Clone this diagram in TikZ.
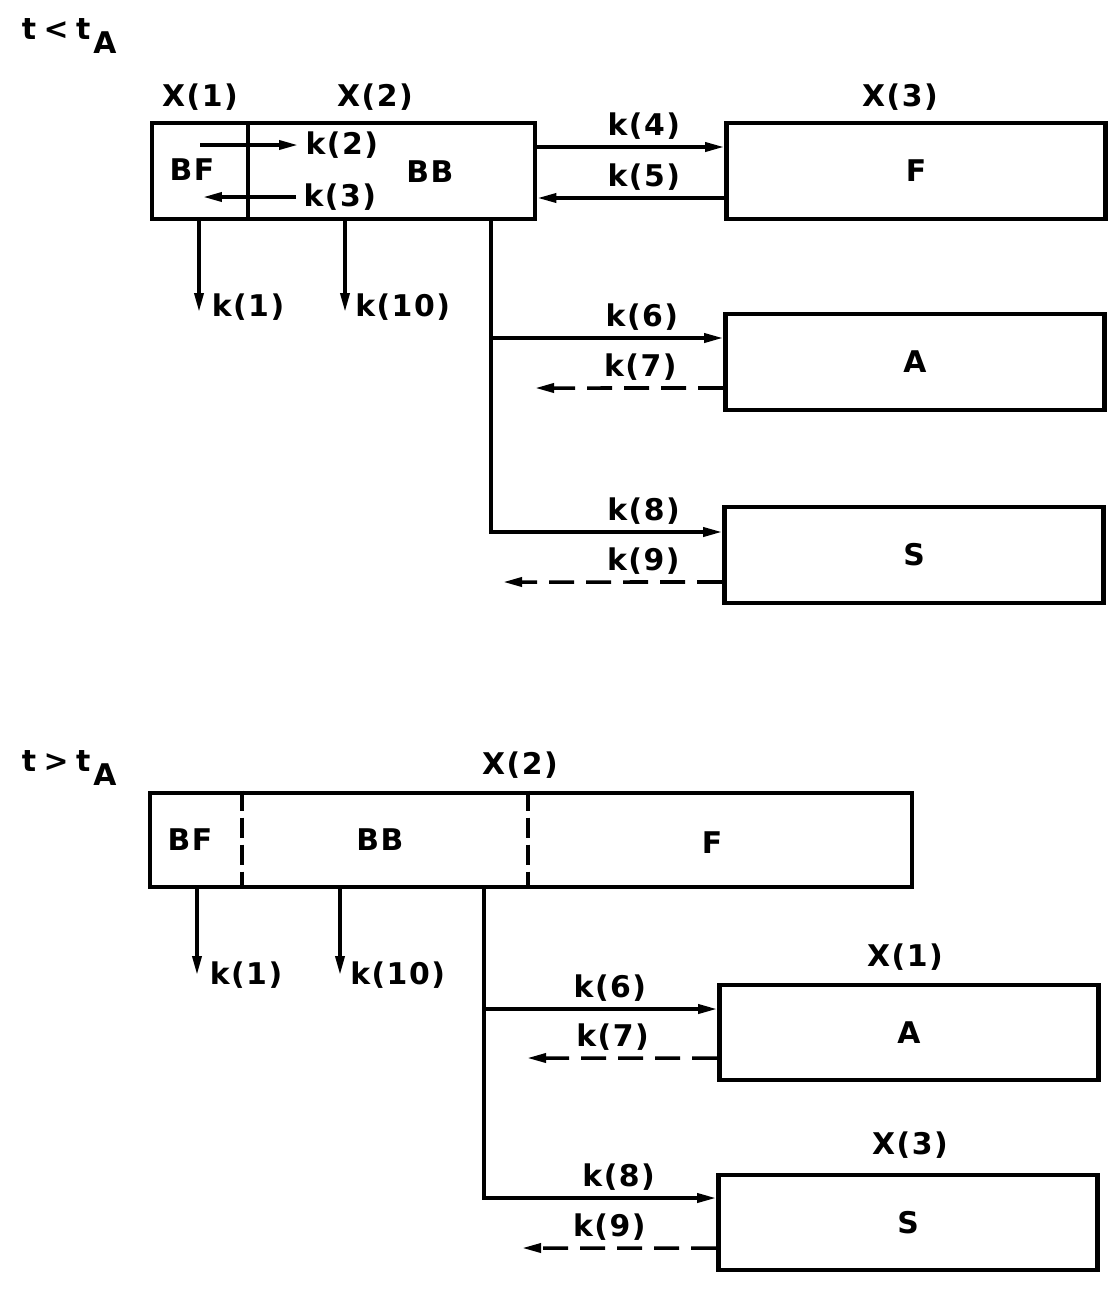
\documentclass[tikz,border=0pt]{standalone}
\usepackage{fontspec}
\setmainfont{DejaVu Sans}[LetterSpace=5, UprightFont={* Bold}]
\usetikzlibrary{positioning,arrows.meta}

\begin{document}
\begin{tikzpicture}[
    x=0.02cm, y=-0.02cm,
    every node/.style={font=\fontsize{17}{20}\selectfont},
    box/.style={
        rectangle, draw, line width=2.7pt,
        minimum width=7.58cm, minimum height=1.92cm,
        inner sep=0pt, align=center
    },
    lbl/.style={inner sep=2pt},
    arrow/.style={-{Triangle[length=0.38cm,width=0.18cm]}, line width=2pt},
    darrow/.style={arrow, dash pattern=on 0.5cm off 0.24cm},
    divider/.style={line width=2.2pt, dash pattern=on 0.4cm off 0.14cm}
]
  \useasboundingbox (0,0) rectangle (1113,1289);

  % ---------- before t_A ----------
  \node[lbl, anchor=west] (when1) at (18,36) {t\hspace{0.25em}<\hspace{0.25em}t\hspace{0.1em}\raisebox{-0.45em}{A}};

  % Nodes
  \node[box, minimum width=1.92cm] (bf1) at (200,171) {};
  \node[box, minimum width=5.74cm] (bb1) at (391.5,171) {};
  \node[lbl] (bftxt1) at (192,170) {BF};
  \node[lbl] (bbtxt1) at (430,172) {BB};
  \node[lbl] (x11) at (200,97) {X(1)};
  \node[lbl] (x21) at (375,97) {X(2)};

  \node[box] (f1) at (916,171) {F};
  \node[lbl] (x31) at (900,97) {X(3)};
  \node[box] (a1) at (915,362) {A};
  \node[box] (s1) at (914,555) {S};

  % internal exchange
  \coordinate (k2s) at (200,145);
  \coordinate (k2e) at (298,145);
  \coordinate (k3s) at (296,197);
  \coordinate (k3e) at (203,197);
  \draw[arrow] (k2s) -- (k2e) node[right] {k(2)};
  \draw[arrow] (k3s) node[right] {k(3)} -- (k3e);

  % Flow arrows
  \draw[arrow] ([yshift=0.48cm]bb1.east) -- ([yshift=0.48cm]f1.west)
      node[pos=0.57, above] {k(4)};
  \draw[arrow] ([yshift=-0.54cm]f1.west) -- ([yshift=-0.54cm]bb1.east)
      node[pos=0.43, above] {k(5)};

  \coordinate (k1e) at (199,312);
  \coordinate (k10e) at (345,312);
  \draw[arrow] (k1e |- bf1.south) -- (k1e) node[lbl, anchor=west, yshift=0.1cm, xshift=0.15cm] {k(1)};
  \draw[arrow] (k10e |- bb1.south) -- (k10e) node[lbl, anchor=west, yshift=0.1cm, xshift=0.1cm] {k(10)};

  \coordinate (tap1) at (491,219);
  \coordinate (a1in) at ([yshift=0.48cm]a1.west);
  \coordinate (a1out) at ([yshift=-0.52cm]a1.west);
  \coordinate (s1in) at ([yshift=0.46cm]s1.west);
  \coordinate (s1out) at ([yshift=-0.54cm]s1.west);
  \coordinate (k7e) at (535,388);
  \coordinate (k9e) at (503,582);

  \draw[arrow] (tap1) |- (s1in)
      node[pos=0.83, above] {k(8)};
  \draw[arrow] (tap1 |- a1in) -- (a1in)
      node[pos=0.65, above] {k(6)};
  \draw[darrow] (a1out) -- (k7e)
      node[pos=0.44, above] {k(7)};
  \draw[darrow] (s1out) -- (k9e)
      node[pos=0.36, above] {k(9)};

  % ---------- after t_A ----------
  \node[lbl, anchor=west] (when2) at (18,768) {t\hspace{0.25em}>\hspace{0.25em}t\hspace{0.1em}\raisebox{-0.45em}{A}};

  % Nodes
  \node[box, minimum width=15.24cm, minimum height=1.88cm] (store2) at (531,840) {};
  \draw[divider] ([xshift=1.88cm]store2.north west) -- ([xshift=1.88cm]store2.south west);
  \draw[divider] ([xshift=7.6cm]store2.north west) -- ([xshift=7.6cm]store2.south west);
  \node[lbl] (bftxt2) at (190,840) {BF};
  \node[lbl] (bbtxt2) at (380,840) {BB};
  \node[lbl] (ftxt2) at (712,843) {F};
  \node[lbl] (x22) at (520,765) {X(2)};

  \node[box, minimum height=1.9cm] (a2) at (909,1032.5) {A};
  \node[lbl] (x12) at (905,957) {X(1)};
  \node[box, minimum height=1.9cm] (s2) at (908,1222.5) {S};
  \node[lbl] (x32) at (910,1145) {X(3)};

  % Flow arrows
  \coordinate (k1e2) at (197,975);
  \coordinate (k10e2) at (340,975);
  \draw[arrow] (k1e2 |- store2.south) -- (k1e2) node[lbl, anchor=west, yshift=0.0cm, xshift=0.15cm] {k(1)};
  \draw[arrow] (k10e2 |- store2.south) -- (k10e2) node[lbl, anchor=west, yshift=0.0cm, xshift=0.1cm] {k(10)};

  \coordinate (tap2) at (484,887);
  \coordinate (a2in) at ([yshift=0.47cm]a2.west);
  \coordinate (a2out) at ([yshift=-0.51cm]a2.west);
  \coordinate (s2in) at ([yshift=0.49cm]s2.west);
  \coordinate (s2out) at ([yshift=-0.51cm]s2.west);
  \coordinate (k7e2) at (527,1058);
  \coordinate (k9e2) at (522,1248);

  \draw[arrow] (tap2) |- (s2in)
      node[pos=0.79, above] {k(8)};
  \draw[arrow] (tap2 |- a2in) -- (a2in)
      node[pos=0.54, above] {k(6)};
  \draw[darrow] (a2out) -- (k7e2)
      node[pos=0.55, above] {k(7)};
  \draw[darrow] (s2out) -- (k9e2)
      node[pos=0.55, above] {k(9)};

\end{tikzpicture}
\end{document}
